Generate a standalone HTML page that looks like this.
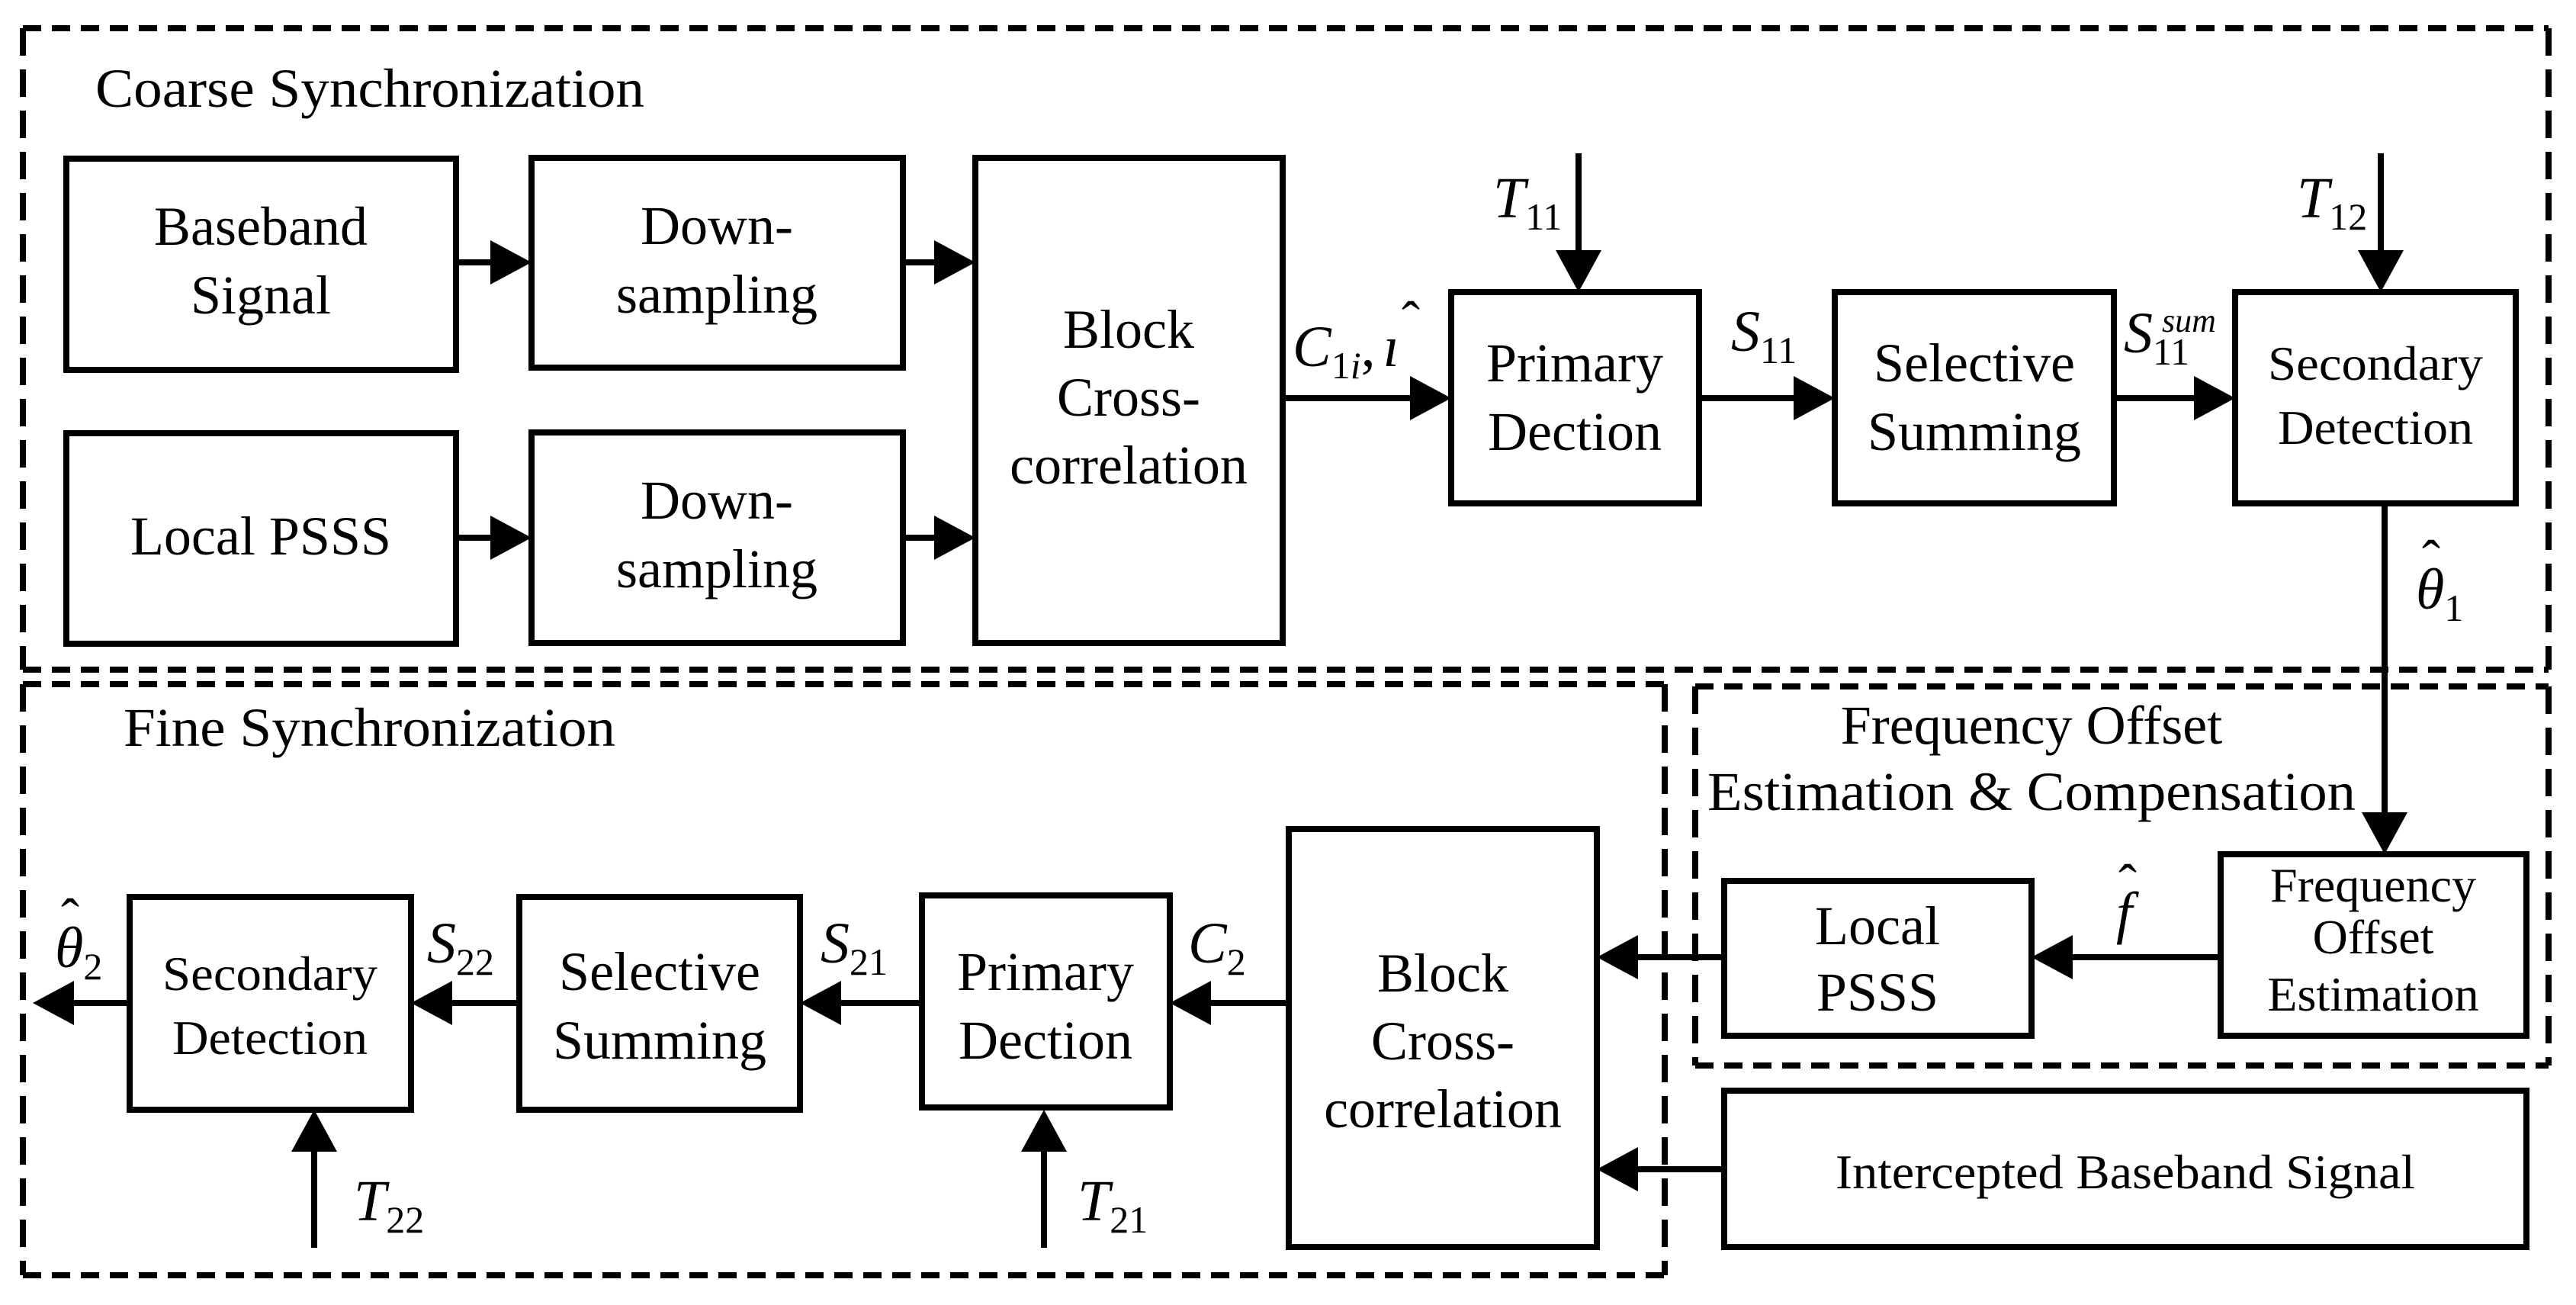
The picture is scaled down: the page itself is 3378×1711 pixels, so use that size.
<!DOCTYPE html>
<html><head><meta charset="utf-8"><style>
html,body{margin:0;padding:0;background:#fff;}
svg{display:block;}
text{font-family:"Liberation Serif","Times New Roman",serif;fill:#000;}
.t{font-family:"Liberation Serif",serif;font-size:72px;text-anchor:middle;}
.s{font-family:"Liberation Serif",serif;font-size:64px;text-anchor:middle;}
.m{font-family:"Liberation Serif",serif;font-size:76px;font-style:italic;}
.sub{font-size:50px;font-style:normal;}
.hat{font-family:"Liberation Serif",serif;font-size:72px;}
</style></head><body>
<svg width="3378" height="1711" viewBox="0 0 3378 1711" xmlns="http://www.w3.org/2000/svg">
<g fill="none" stroke="#000" stroke-width="8">
<g stroke-dasharray="24 14">
<line x1="30" y1="37" x2="3342" y2="37"/>
<line x1="30" y1="878" x2="3342" y2="878"/>
<line x1="30" y1="897" x2="2183" y2="897"/>
<line x1="30" y1="1672" x2="2183" y2="1672"/>
<line x1="2223" y1="900" x2="3342" y2="900"/>
<line x1="2223" y1="1397" x2="3342" y2="1397"/>
</g>
<g stroke-dasharray="36 18">
<line x1="30" y1="37" x2="30" y2="878"/>
<line x1="3342" y1="37" x2="3342" y2="878"/>
<line x1="30" y1="897" x2="30" y2="1672"/>
<line x1="2183" y1="897" x2="2183" y2="1672"/>
<line x1="2223" y1="900" x2="2223" y2="1397"/>
<line x1="3342" y1="900" x2="3342" y2="1397"/>
</g>
<rect x="87" y="208" width="511" height="277"/>
<rect x="697" y="207" width="487" height="275"/>
<rect x="1279" y="207" width="403" height="636"/>
<rect x="87" y="568" width="511" height="276"/>
<rect x="697" y="567" width="487" height="276"/>
<rect x="1903" y="383" width="325" height="277"/>
<rect x="2406" y="383" width="366" height="277"/>
<rect x="2931" y="383" width="368" height="277"/>
<rect x="170" y="1176" width="369" height="279"/>
<rect x="681" y="1176" width="368" height="279"/>
<rect x="1209" y="1174" width="325" height="278"/>
<rect x="1690" y="1087" width="404" height="548"/>
<rect x="2261" y="1155" width="403" height="203"/>
<rect x="2912" y="1120" width="401" height="238"/>
<rect x="2261" y="1430" width="1052" height="205"/>
<line x1="598" y1="344" x2="650" y2="344"/>
<line x1="1184" y1="344" x2="1235" y2="344"/>
<line x1="598" y1="705" x2="650" y2="705"/>
<line x1="1184" y1="705" x2="1235" y2="705"/>
<line x1="1682" y1="522" x2="1860" y2="522"/>
<line x1="2228" y1="522" x2="2360" y2="522"/>
<line x1="2772" y1="522" x2="2885" y2="522"/>
<line x1="2070" y1="201" x2="2070" y2="340"/>
<line x1="3122" y1="201" x2="3122" y2="340"/>
<line x1="3127" y1="660" x2="3127" y2="1075"/>
<line x1="1690" y1="1315" x2="1580" y2="1315"/>
<line x1="1209" y1="1315" x2="1095" y2="1315"/>
<line x1="681" y1="1315" x2="585" y2="1315"/>
<line x1="170" y1="1315" x2="90" y2="1315"/>
<line x1="1369" y1="1636" x2="1369" y2="1500"/>
<line x1="412" y1="1636" x2="412" y2="1500"/>
<line x1="2912" y1="1255" x2="2710" y2="1255"/>
<line x1="2261" y1="1255" x2="2140" y2="1255"/>
<line x1="2261" y1="1533" x2="2140" y2="1533"/>
</g>
<g fill="#000">
<polygon points="643,315 697,344 643,373"/>
<polygon points="1225,315 1279,344 1225,373"/>
<polygon points="643,676 697,705 643,734"/>
<polygon points="1225,676 1279,705 1225,734"/>
<polygon points="1849,493 1903,522 1849,551"/>
<polygon points="2352,493 2406,522 2352,551"/>
<polygon points="2877,493 2931,522 2877,551"/>
<polygon points="2040,328 2070,383 2100,328"/>
<polygon points="3092,328 3122,383 3152,328"/>
<polygon points="3097,1065 3127,1120 3157,1065"/>
<polygon points="1588,1286 1534,1315 1588,1344"/>
<polygon points="1103,1286 1049,1315 1103,1344"/>
<polygon points="593,1286 539,1315 593,1344"/>
<polygon points="97,1286 43,1315 97,1344"/>
<polygon points="1339,1510 1369,1455 1399,1510"/>
<polygon points="382,1510 412,1455 442,1510"/>
<polygon points="2718,1226 2664,1255 2718,1284"/>
<polygon points="2148,1226 2094,1255 2148,1284"/>
<polygon points="2148,1504 2094,1533 2148,1562"/>
</g>
<text x="125" y="140" style="font-size:72px" textLength="720" lengthAdjust="spacingAndGlyphs">Coarse Synchronization</text>
<text x="162" y="978" style="font-size:72px" textLength="645" lengthAdjust="spacingAndGlyphs">Fine Synchronization</text>
<text x="2664" y="975" class="t">Frequency Offset</text>
<text x="2664" y="1062" class="t" textLength="850" lengthAdjust="spacingAndGlyphs">Estimation &amp; Compensation</text>
<text x="342" y="321" class="t">Baseband</text><text x="342" y="411" class="t">Signal</text>
<text x="940" y="320" class="t">Down-</text><text x="940" y="410" class="t">sampling</text>
<text x="342" y="727" class="t">Local PSSS</text>
<text x="940" y="680" class="t">Down-</text><text x="940" y="770" class="t">sampling</text>
<text x="1480" y="456" class="t">Block</text><text x="1480" y="545" class="t">Cross-</text><text x="1480" y="634" class="t">correlation</text>
<text x="2065" y="500" class="t">Primary</text><text x="2065" y="590" class="t">Dection</text>
<text x="2589" y="500" class="t">Selective</text><text x="2589" y="590" class="t">Summing</text>
<text x="3115" y="498" class="s" textLength="282" lengthAdjust="spacingAndGlyphs">Secondary</text><text x="3115" y="582" class="s" textLength="256" lengthAdjust="spacingAndGlyphs">Detection</text>
<text x="354" y="1298" class="s" textLength="282" lengthAdjust="spacingAndGlyphs">Secondary</text><text x="354" y="1382" class="s" textLength="256" lengthAdjust="spacingAndGlyphs">Detection</text>
<text x="865" y="1298" class="t">Selective</text><text x="865" y="1388" class="t">Summing</text>
<text x="1371" y="1298" class="t">Primary</text><text x="1371" y="1388" class="t">Dection</text>
<text x="1892" y="1300" class="t">Block</text><text x="1892" y="1389" class="t">Cross-</text><text x="1892" y="1478" class="t">correlation</text>
<text x="2462" y="1238" class="t">Local</text><text x="2462" y="1325" class="t">PSSS</text>
<text x="3112" y="1182" class="s">Frequency</text><text x="3112" y="1250" class="s">Offset</text><text x="3112" y="1325" class="s">Estimation</text>
<text x="2787" y="1558" class="s" textLength="760" lengthAdjust="spacingAndGlyphs">Intercepted Baseband Signal</text>
<text x="1695" y="480" class="m">C<tspan class="sub" dy="16">1</tspan><tspan class="sub" style="font-style:italic">i</tspan><tspan dy="-16" style="font-style:normal">,</tspan><tspan dx="10">ı</tspan></text>
<text x="1838" y="445" class="hat">ˆ</text>
<text x="2270" y="460" class="m">S<tspan class="sub" dy="16">11</tspan></text>
<text x="2785" y="462" class="m">S<tspan class="sub" dy="16">11</tspan></text>
<text x="2835" y="435" class="sub" style="font-style:italic;font-size:44px">sum</text>
<text x="1958" y="285" class="m">T<tspan class="sub" dy="16">11</tspan></text>
<text x="3012" y="285" class="m">T<tspan class="sub" dy="16">12</tspan></text>
<text x="3168" y="798" class="m">θ<tspan class="sub" dy="16">1</tspan></text>
<text x="3176" y="758" class="hat">ˆ</text>
<text x="72" y="1268" class="m">θ<tspan class="sub" dy="16">2</tspan></text>
<text x="80" y="1228" class="hat">ˆ</text>
<text x="560" y="1262" class="m">S<tspan class="sub" dy="16">22</tspan></text>
<text x="1076" y="1262" class="m">S<tspan class="sub" dy="16">21</tspan></text>
<text x="1558" y="1262" class="m">C<tspan class="sub" dy="16">2</tspan></text>
<text x="464" y="1600" class="m">T<tspan class="sub" dy="16">22</tspan></text>
<text x="1413" y="1600" class="m">T<tspan class="sub" dy="16">21</tspan></text>
<text x="2775" y="1222" class="m">f</text>
<text x="2778" y="1183" class="hat">ˆ</text>
</svg>
</body></html>
